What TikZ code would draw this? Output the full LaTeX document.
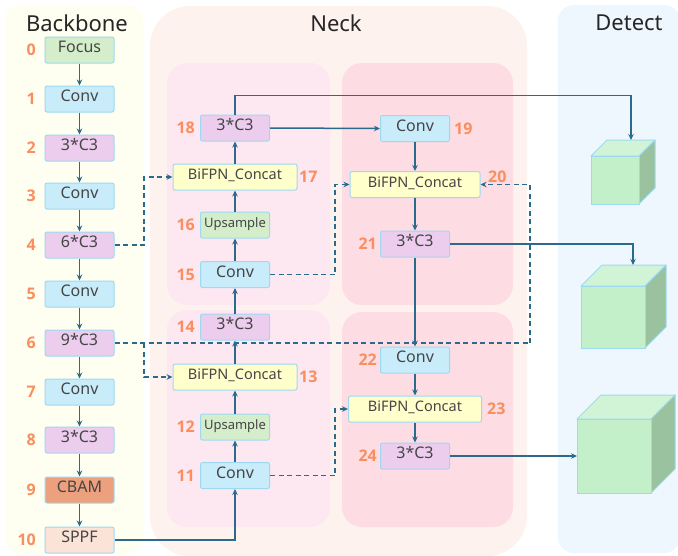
\documentclass[tikz,border=0pt]{standalone}
\usepackage{fontspec}
\setmainfont{Noto Sans}
\newfontfamily\numfont{Open Sans}
\usetikzlibrary{arrows.meta}
\definecolor{bbpanel}{HTML}{FEFEF1}
\definecolor{neckpanel}{HTML}{FDF2EE}
\definecolor{leftpanel}{HTML}{FDE7F0}
\definecolor{rightpanel}{HTML}{FDDCE4}
\definecolor{detpanel}{HTML}{EEF7FD}
\definecolor{bordc}{HTML}{9DDAF2}
\definecolor{bluec}{HTML}{C9ECFB}
\definecolor{purpc}{HTML}{EDCDEE}
\definecolor{greenc}{HTML}{D4EECB}
\definecolor{yellc}{HTML}{FFFFCC}
\definecolor{cbamc}{HTML}{EDA07E}
\definecolor{sppfc}{HTML}{FBE3D7}
\definecolor{numc}{HTML}{F98E5E}
\definecolor{txtc}{HTML}{454545}
\definecolor{arrc}{HTML}{2B6A8B}
\definecolor{cfront}{HTML}{C3F0C8}
\definecolor{ctop}{HTML}{D2F4D6}
\definecolor{cside}{HTML}{9BC29E}
\newcommand\mycube[5]{%
  \filldraw[fill=ctop,draw=bordc,line width=1pt,line join=round] (#1,#2) -- (#1+#5,#2-#5) -- (#1+#3+#5,#2-#5) -- (#1+#3,#2) -- cycle;
  \filldraw[fill=cside,draw=bordc,line width=1pt,line join=round] (#1+#3,#2) -- (#1+#3+#5,#2-#5) -- (#1+#3+#5,#2+#4-#5) -- (#1+#3,#2+#4) -- cycle;
  \filldraw[fill=cfront,draw=bordc,line width=1pt] (#1,#2) rectangle (#1+#3,#2+#4);
}
\begin{document}
\begin{tikzpicture}[x=1pt,y=-1pt,
  box/.style={draw=bordc,line width=1pt,rounded corners=2pt,minimum height=26pt,minimum width=69pt,inner sep=0pt,
    text height=0.72em,text depth=0.2em,font=\fontsize{16}{16}\selectfont,text=txtc},
  blue/.style={box,fill=bluec},
  purp/.style={box,fill=purpc},
  grn/.style={box,fill=greenc},
  ups/.style={box,fill=greenc,font=\fontsize{13}{13}\selectfont},
  bifpn/.style={box,fill=yellc,minimum width=124pt,font=\fontsize{14.5}{14.5}\selectfont},
  num/.style={text=numc,font=\fontsize{16}{16}\numfont\bfseries,inner sep=0pt},
  ttl/.style={text=black!85,font=\fontsize{22}{22}\selectfont,inner sep=0pt},
  arr/.style={draw=arrc,line width=1.5pt,-{Stealth[length=6pt,width=5.5pt]}},
  dsh/.style={draw=arrc,line width=1.5pt,dash pattern=on 5pt off 3.5pt}
]
\useasboundingbox (0,0) rectangle (678,555);
\fill[white] (0,0) rectangle (678,555);
% panels
\fill[bbpanel,rounded corners=16pt] (5,5) rectangle (143,553);
\fill[neckpanel,rounded corners=40pt] (150,6) rectangle (527,556);
\fill[leftpanel,rounded corners=20pt] (167,63) rectangle (330,305);
\fill[leftpanel,rounded corners=20pt] (167,310) rectangle (330,527);
\fill[rightpanel,rounded corners=20pt] (342,63) rectangle (513,305);
\fill[rightpanel,rounded corners=20pt] (342,312) rectangle (513,527);
\fill[detpanel,rounded corners=16pt] (558,5) rectangle (680,553);
% titles
\node[ttl] (tb) at (77,23) {Backbone};
\node[ttl] (tn) at (336,23) {Neck};
\node[ttl] (td) at (629,23) {Detect};
% backbone
\node[grn] (b0) at (79.5,50) {Focus};
\node[blue] (b1) at (79.5,99) {Conv};
\node[purp] (b2) at (79.5,148) {3*C3};
\node[blue] (b3) at (79.5,196) {Conv};
\node[purp] (b4) at (79.5,245) {6*C3};
\node[blue] (b5) at (79.5,294) {Conv};
\node[purp] (b6) at (79.5,343) {9*C3};
\node[blue] (b7) at (79.5,392) {Conv};
\node[purp] (b8) at (79.5,440) {3*C3};
\node[box,fill=cbamc] (b9) at (79.5,490) {CBAM};
\node[box,fill=sppfc] (b10) at (79.5,540) {SPPF};
\foreach \i/\y in {0/50,1/99,2/148,3/196,4/245,5/294,6/343,7/392,8/440,9/490,10/540}
  \node[num,anchor=east] (lb\i) at (36,\y) {\i};
\foreach \a/\b in {0/1,1/2,2/3,3/4,4/5,5/6,6/7,7/8,8/9,9/10}
  \draw[arr] (b\a) -- (b\b);
% neck left column
\node[purp] (n18) at (235,128) {3*C3};
\node[bifpn] (n17) at (235,177) {BiFPN\_Concat};
\node[ups] (n16) at (235,225) {Upsample};
\node[blue] (n15) at (235,274.5) {Conv};
\node[purp] (n14) at (235,327) {3*C3};
\node[bifpn] (n13) at (235,377) {BiFPN\_Concat};
\node[ups] (n12) at (235,427) {Upsample};
\node[blue] (n11) at (235,475.5) {Conv};
% neck right column
\node[blue] (n19) at (415,128.5) {Conv};
\node[bifpn,minimum width=130pt] (n20) at (415,184.5) {BiFPN\_Concat};
\node[purp] (n21) at (415,244) {3*C3};
\node[blue] (n22) at (415,360) {Conv};
\node[bifpn,minimum width=133pt] (n23) at (415,409) {BiFPN\_Concat};
\node[purp] (n24) at (415,456) {3*C3};
% numbers
\node[num,anchor=east] (l18) at (195,128) {18};
\node[num,anchor=west] (l17) at (299,177) {17};
\node[num,anchor=east] (l16) at (195,225) {16};
\node[num,anchor=east] (l15) at (195,274.5) {15};
\node[num,anchor=east] (l14) at (195,327) {14};
\node[num,anchor=west] (l13) at (299,377) {13};
\node[num,anchor=east] (l12) at (195,427) {12};
\node[num,anchor=east] (l11) at (195,475.5) {11};
\node[num,anchor=west] (l19) at (454,128.5) {19};
\node[num,anchor=west] (l20) at (488,177) {20};
\node[num,anchor=east] (l21) at (377,244) {21};
\node[num,anchor=east] (l22) at (377,360) {22};
\node[num,anchor=west] (l23) at (487,409) {23};
\node[num,anchor=east] (l24) at (377,456) {24};
% cubes
\mycube{591}{156}{48}{48}{16}
\mycube{581}{286}{64}{62}{21}
\mycube{577}{419}{74}{74}{24}
\coordinate (c1) at (631,140);
\coordinate (c2) at (633,265);
\coordinate (c3) at (577,456);
% solid flows
\foreach \a/\b in {11/12,12/13,13/14,14/15,15/16,16/17,17/18,19/20,20/21,21/22,22/23,23/24}
  \draw[arr] (n\a) -- (n\b);
\draw[arr] (b10.east) -| (n11.south);
\draw[arr] (n18.east) -- (n19.west);
\draw[arr] (n18.north) -- ++(0,-19) -| (c1);
\draw[arr] (n21.east) -| (c2);
\draw[arr] (n24.east) -- (c3);
% dashed flows
\coordinate (k4) at (144,245);
\coordinate (k6) at (144,343);
\coordinate (k6r) at (530,343);
\draw[dsh,-{Stealth[length=6pt,width=5.5pt]}] (b4.east) -- (k4) |- (n17.west);
\draw[dsh] (b6.east) -- (k6r);
\draw[dsh,-{Stealth[length=6pt,width=5.5pt]}] (k6r) |- (n20.east);
\draw[dsh,-{Stealth[length=6pt,width=5.5pt]}] (k6) |- (n13.west);
\draw[dsh,-{Stealth[length=6pt,width=5.5pt]}] (n15.east) -- ++(65,0) |- (n20.west);
\draw[dsh,-{Stealth[length=6pt,width=5.5pt]}] (n11.east) -- ++(65,0) |- (n23.west);
\end{tikzpicture}
\end{document}
